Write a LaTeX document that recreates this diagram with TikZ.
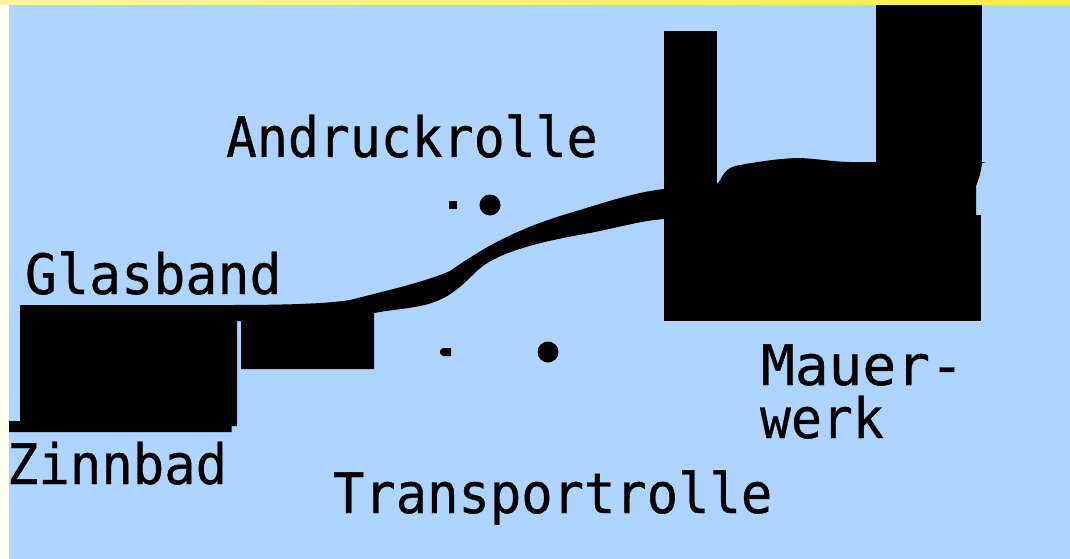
\documentclass[tikz,border=0pt]{standalone}
\usepackage{fontspec}
\newfontfamily\labelfont[FakeStretch=0.905,FakeBold=0.6]{DejaVu Sans Mono}
\definecolor{skyblue}{HTML}{AED4FF}
\definecolor{creamy}{HTML}{FFFFF0}
\definecolor{barleft}{HTML}{FFF3A8}
\definecolor{barright}{HTML}{FFF040}
\tikzset{
  lbl/.style={anchor=base west,inner sep=0pt,outer sep=0pt,text=black,yscale=0.96,font=\fontsize{58}{58}\selectfont\labelfont},
  solidshape/.style={fill=black,draw=none}
}
\begin{document}
\begin{tikzpicture}[x=1pt,y=-1pt]
\useasboundingbox (0,0) rectangle (1070,559);
\fill[creamy] (0,0) rectangle (1070,559);
\fill[skyblue] (9,5) rectangle (1070,559);
\shade[left color=barleft,right color=barright] (0,0) rectangle (1070,5);
% Zinnbad
\fill[solidshape] (20,305) -- (237,305) -- (237,426) -- (231.5,426) -- (231.5,432) -- (9,432) -- (9,421) -- (20,421) -- cycle;
% Glass ribbon with the small block under it
\fill[solidshape] (230,305) .. controls (280,305) and (325,304) .. (350,300)
  .. controls (385,291) and (425,282) .. (450,271)
  .. controls (480,250) and (510,232) .. (560,216)
  .. controls (600,204) and (635,192) .. (664,189)
  -- (690,188) -- (690,219) -- (664,219)
  .. controls (640,221) and (625,226) .. (590,233)
  .. controls (550,240) and (500,250) .. (478,270)
  .. controls (462,285) and (450,300) .. (420,306)
  .. controls (405,309) and (390,310) .. (374,313)
  -- (374,369) -- (241,369) -- (241,321) -- (230,321) -- cycle;
% Mauerwerk
\fill[solidshape] (664,215) rectangle (981,321);
\fill[solidshape] (664,31) rectangle (717,189);
\fill[solidshape] (876,5) rectangle (982,163);
\fill[solidshape] (664,189) -- (717,189) -- (717,184)
  .. controls (722,180) and (722,170) .. (735,166)
  .. controls (760,161) and (785,158) .. (800,158)
  .. controls (820,159) and (835,162) .. (850,162)
  -- (986,162) -- (982,163)
  .. controls (981,173) and (979,178) .. (976,186)
  -- (976,216) -- (664,216) -- cycle;
% Rollen
\fill[solidshape] (449,201) rectangle (457,208.5);
\fill[solidshape] (490,205) circle (10.5);
\fill[solidshape] (440,350.5) -- (443,348) -- (451,348) -- (451,356) -- (443,356) -- (440,353.5) -- cycle;
\fill[solidshape] (548,352) circle (10.5);
% Labels
\node[lbl,xscale=0.98] (andruck) at (226,157) {Andruckrolle};
\node[lbl,xscale=1.015] (glasband) at (25,294) {Glasband};
\node[lbl,xscale=0.995] (zinnbad) at (7,484) {Zinnbad};
\node[lbl,xscale=1.07] (mauer) at (761,385) {Mauer-};
\node[lbl,xscale=0.98] (werk) at (760,438) {werk};
\node[lbl,xscale=0.993] (transport) at (333,513) {Transportrolle};
\end{tikzpicture}
\end{document}
